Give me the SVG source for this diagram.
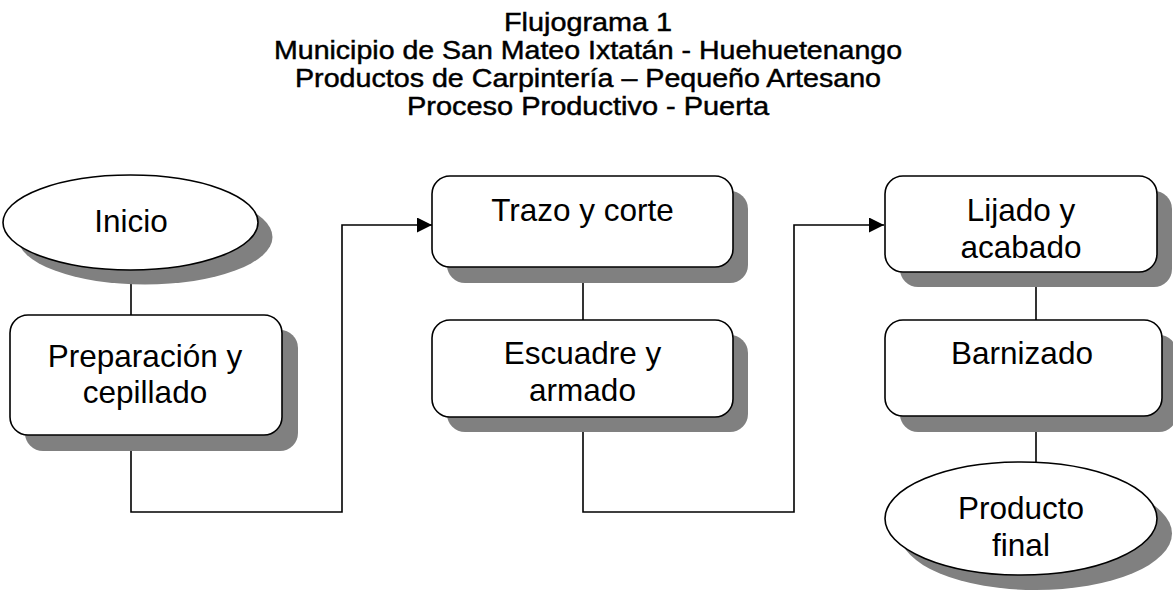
<svg xmlns="http://www.w3.org/2000/svg" width="1173" height="590" viewBox="0 0 1173 590">
<style>
.title{font-family:"Liberation Sans",Arial,sans-serif;font-size:25px;fill:#000;stroke:#000;stroke-width:0.45;text-anchor:middle}
.lbl{font-family:"Liberation Sans",Arial,sans-serif;font-size:31.5px;fill:#000;text-anchor:middle}
.shadow{fill:#808080;stroke:none}
.box{fill:#fff;stroke:#000;stroke-width:1.6}
.conn{fill:none;stroke:#000;stroke-width:1.6}
</style>
<defs>
<marker id="arr" viewBox="0 0 15 15" refX="15" refY="7.5" markerWidth="15" markerHeight="15" markerUnits="userSpaceOnUse" orient="auto">
<path d="M0,0 L15,7.5 L0,15 Z" fill="#000"/>
</marker>
</defs>
<rect width="1173" height="590" fill="#fff"/>
<g id="title">
<text class="title" x="588" y="31" textLength="168" lengthAdjust="spacingAndGlyphs">Flujograma 1</text>
<text class="title" x="588" y="59" textLength="628" lengthAdjust="spacingAndGlyphs">Municipio de San Mateo Ixtatán - Huehuetenango</text>
<text class="title" x="588" y="87" textLength="586" lengthAdjust="spacingAndGlyphs">Productos de Carpintería – Pequeño Artesano</text>
<text class="title" x="588" y="115" textLength="362" lengthAdjust="spacingAndGlyphs">Proceso Productivo - Puerta</text>
</g>
<g id="connectors">
<path class="conn" d="M131,270 V328"/>
<path class="conn" d="M131,451 V512 H342 V225 H432" marker-end="url(#arr)"/>
<path class="conn" d="M583,272 V320"/>
<path class="conn" d="M583,417 V512 H794 V225 H884" marker-end="url(#arr)"/>
<path class="conn" d="M1036,272 V328"/>
<path class="conn" d="M1036,416 V463"/>
</g>
<g id="inicio">
<ellipse class="shadow" cx="145" cy="237" rx="127.5" ry="47.5"/>
<ellipse class="box" cx="130.5" cy="222.5" rx="127.5" ry="47.5"/>
<text class="lbl" x="131" y="232">Inicio</text>
</g>
<g id="preparacion">
<rect class="shadow" x="25" y="330" width="273" height="121" rx="18"/>
<rect class="box" x="10" y="315" width="272" height="120" rx="18"/>
<text class="lbl" x="145" y="367"><tspan x="145" y="367">Preparación y</tspan><tspan x="145" y="403">cepillado</tspan></text>
</g>
<g id="trazo">
<rect class="shadow" x="447" y="191" width="301" height="92" rx="18"/>
<rect class="box" x="432" y="176" width="301" height="91" rx="18"/>
<text class="lbl" x="582.5" y="221">Trazo y corte</text>
</g>
<g id="escuadre">
<rect class="shadow" x="447" y="335" width="301" height="97" rx="18"/>
<rect class="box" x="432" y="320" width="301" height="97" rx="18"/>
<text class="lbl" x="582.5" y="364"><tspan x="582.5" y="364">Escuadre y</tspan><tspan x="582.5" y="401">armado</tspan></text>
</g>
<g id="lijado">
<rect class="shadow" x="900" y="191" width="272" height="96" rx="18"/>
<rect class="box" x="885" y="176" width="272" height="96" rx="18"/>
<text class="lbl" x="1021" y="221"><tspan x="1021" y="221">Lijado y</tspan><tspan x="1021" y="258">acabado</tspan></text>
</g>
<g id="barnizado">
<rect class="shadow" x="900" y="335" width="277" height="97" rx="18"/>
<rect class="box" x="885" y="320" width="277" height="96" rx="18"/>
<text class="lbl" x="1022" y="364">Barnizado</text>
</g>
<g id="producto">
<ellipse class="shadow" cx="1036" cy="533.5" rx="136" ry="56.5"/>
<ellipse class="box" cx="1021" cy="518.5" rx="136" ry="56.5"/>
<text class="lbl" x="1021" y="519"><tspan x="1021" y="519">Producto</tspan><tspan x="1021" y="556">final</tspan></text>
</g>
</svg>
